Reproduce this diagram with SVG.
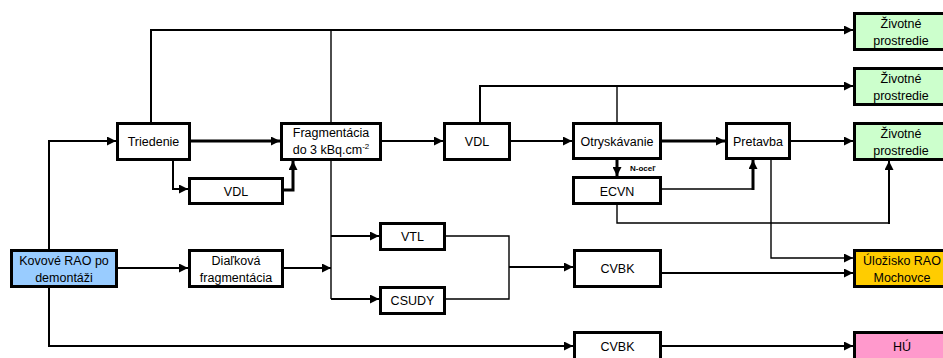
<svg xmlns="http://www.w3.org/2000/svg" width="943" height="358" viewBox="0 0 943 358">
<style>
.n{fill:#fff;stroke:#000;stroke-width:3}
.t{font-family:"Liberation Sans",Arial,sans-serif;font-size:12.5px;fill:#000;text-anchor:middle}
.c{fill:none;stroke:#000;stroke-width:2}
.k{fill:none;stroke:#000;stroke-width:3}
.s{fill:none;stroke:#000;stroke-width:1.4}
.lbl{font-family:"Liberation Sans",Arial,sans-serif;font-size:8px;font-weight:bold;fill:#000}
</style>
<defs>
<marker id="a" markerUnits="userSpaceOnUse" markerWidth="9" markerHeight="9" refX="9" refY="4.5" orient="auto">
<path d="M0,0 L9,4.5 L0,9 z" fill="#000"/>
</marker>
</defs>
<rect width="943" height="358" fill="#fff"/>
<g id="connectors">
<path class="c" d="M49,249 V141 H116" marker-end="url(#a)"/>
<path class="c" d="M49,288 V346 H573" marker-end="url(#a)"/>
<path class="c" d="M118,268 H188" marker-end="url(#a)"/>
<path class="k" d="M191,141 H280" marker-end="url(#a)"/>
<path class="c" d="M151,122 V30 H853" marker-end="url(#a)"/>
<path class="s" d="M331,30 V122"/>
<path class="c" d="M173,161 V189 H188" marker-end="url(#a)"/>
<path class="k" d="M284,190 H293 V161" marker-end="url(#a)"/>
<path class="c" d="M382,141 H443" marker-end="url(#a)"/>
<path class="s" d="M331,161 V299"/>
<path class="c" d="M331,236 H379" marker-end="url(#a)"/>
<path class="c" d="M331,299 H379" marker-end="url(#a)"/>
<path class="c" d="M284,268 H331" marker-end="url(#a)"/>
<path class="c" d="M511,141 H572" marker-end="url(#a)"/>
<path class="c" d="M480,122 V86 H853" marker-end="url(#a)"/>
<path class="s" d="M617,86 V122"/>
<path class="k" d="M617,160 V176" marker-end="url(#a)"/>
<path class="k" d="M662,141 H725" marker-end="url(#a)"/>
<path class="s" d="M662,189 H753"/>
<path class="k" d="M753,190 V160" marker-end="url(#a)"/>
<path class="s" d="M617,205 V223 H889"/>
<path class="c" d="M889,224 V161" marker-end="url(#a)"/>
<path class="s" d="M771,160 V258 H853" marker-end="url(#a)"/>
<path class="s" d="M446,236 H509 V299 H446"/>
<path class="c" d="M509,267 H573" marker-end="url(#a)"/>
<path class="c" d="M662,273 H853" marker-end="url(#a)"/>
<path class="c" d="M791,141 H853" marker-end="url(#a)"/>
<path class="c" d="M662,346 H853" marker-end="url(#a)"/>
<text class="lbl" x="630" y="171">N-oceľ</text>
</g>
<g id="n-triedenie"><rect class="n" x="117.5" y="123.5" width="72" height="36"/><text class="t" x="153.5" y="146">Triedenie</text></g>
<g id="n-frag"><rect class="n" x="281.5" y="123.5" width="99" height="36"/><text class="t" x="331" y="137">Fragmentácia</text><text class="t" x="331" y="154">do 3 kBq.cm<tspan font-size="8" dy="-5">-2</tspan></text></g>
<g id="n-vdl1"><rect class="n" x="444.5" y="123.5" width="65" height="36"/><text class="t" x="477" y="146">VDL</text></g>
<g id="n-otrysk"><rect class="n" x="573.5" y="123.5" width="87" height="35"/><text class="t" x="617" y="146">Otryskávanie</text></g>
<g id="n-pretavba"><rect class="n" x="726.5" y="123.5" width="63" height="35"/><text class="t" x="758" y="146">Pretavba</text></g>
<g id="n-zp1"><rect class="n" x="854.5" y="13.5" width="96" height="36" fill="#ccffcc" style="fill:#ccffcc"/><text class="t" x="901" y="28">Životné</text><text class="t" x="901" y="45">prostredie</text></g>
<g id="n-zp2"><rect class="n" x="854.5" y="68.5" width="96" height="36" style="fill:#ccffcc"/><text class="t" x="901" y="83">Životné</text><text class="t" x="901" y="100">prostredie</text></g>
<g id="n-zp3"><rect class="n" x="854.5" y="123.5" width="96" height="36" style="fill:#ccffcc"/><text class="t" x="901" y="138">Životné</text><text class="t" x="901" y="155">prostredie</text></g>
<g id="n-ecvn"><rect class="n" x="573.5" y="177.5" width="87" height="26"/><text class="t" x="617" y="196">ECVN</text></g>
<g id="n-vdl2"><rect class="n" x="189.5" y="178.5" width="93" height="25"/><text class="t" x="236" y="196">VDL</text></g>
<g id="n-kovove"><rect class="n" x="11.5" y="250.5" width="105" height="36" style="fill:#99ccff"/><text class="t" x="64" y="265">Kovové RAO po</text><text class="t" x="64" y="282">demontáži</text></g>
<g id="n-dialkova"><rect class="n" x="189.5" y="250.5" width="93" height="36"/><text class="t" x="236" y="265">Diaľková</text><text class="t" x="236" y="282">fragmentácia</text></g>
<g id="n-vtl"><rect class="n" x="380.5" y="223.5" width="64" height="26"/><text class="t" x="412.5" y="241">VTL</text></g>
<g id="n-csudy"><rect class="n" x="380.5" y="287.5" width="64" height="26"/><text class="t" x="412.5" y="305">CSUDY</text></g>
<g id="n-cvbk1"><rect class="n" x="574.5" y="250.5" width="86" height="36"/><text class="t" x="617.5" y="273">CVBK</text></g>
<g id="n-ulozisko"><rect class="n" x="854.5" y="250.5" width="96" height="36" style="fill:#ffcc00"/><text class="t" x="902" y="265">Úložisko RAO</text><text class="t" x="902" y="282">Mochovce</text></g>
<g id="n-cvbk2"><rect class="n" x="574.5" y="332.5" width="86" height="30"/><text class="t" x="617.5" y="351">CVBK</text></g>
<g id="n-hu"><rect class="n" x="854.5" y="332.5" width="96" height="30" style="fill:#ff99cc"/><text class="t" x="902" y="351">HÚ</text></g>
</svg>
